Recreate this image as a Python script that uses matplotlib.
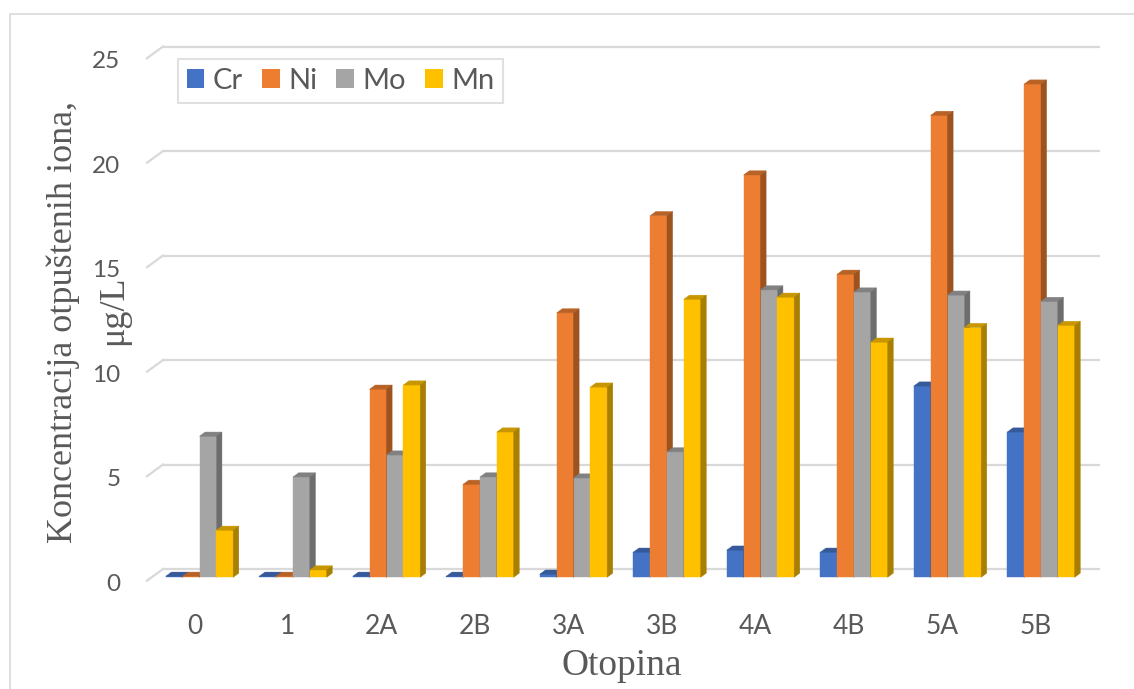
import sys

import numpy as np
import matplotlib

matplotlib.use("Agg")
import matplotlib.pyplot as plt
from matplotlib.colors import to_rgb
from matplotlib.patches import Patch, Polygon, Rectangle
from matplotlib.transforms import ScaledTranslation

CATEGORIES = ["0", "1", "2A", "2B", "3A", "3B", "4A", "4B", "5A", "5B"]
SERIES = ["Cr", "Ni", "Mo", "Mn"]
CR = [0.05, 0.05, 0.05, 0.05, 0.15, 1.2, 1.3, 1.2, 9.15, 6.95]
NI = [0.05, 0.05, 9.0, 4.45, 12.65, 17.3, 19.25, 14.5, 22.1, 23.6]
MO = [6.75, 4.8, 5.85, 4.8, 4.75, 6.0, 13.75, 13.65, 13.5, 13.2]
MN = [2.25, 0.35, 9.2, 6.95, 9.1, 13.3, 13.4, 11.25, 11.95, 12.05]
COLORS = ["#4472C4", "#ED7D31", "#A5A5A5", "#FFC000"]
Y_TICKS = [0, 5, 10, 15, 20, 25]

W, H, DPI = 1134, 689, 100
GRID = "#D9D9D9"
TEXT = "#595959"


def shade(color, f):
    return tuple(c * f for c in to_rgb(color))


def main() -> int:
    plt.rcParams["font.family"] = ["Lato", "DejaVu Sans"]

    fig = plt.figure(figsize=(W / DPI, H / DPI), dpi=DPI)
    # chart area border (runs off the right and bottom edge)
    fig.patches.append(
        Rectangle((10 / W, -0.1), 1.2, 1 - 14 / H + 0.1,
                  transform=fig.transFigure, fill=False,
                  edgecolor=GRID, lw=1.2)
    )

    ax = fig.add_axes([147 / W, 1 - 600 / H, 952 / W, 570 / H])
    ax.set_xlim(-0.5615, 9.6203)
    ax.set_ylim(-1.086, 26.187)
    ax.patch.set_visible(False)
    for s in ax.spines.values():
        s.set_visible(False)

    # back wall gridlines with the little diagonal on the left wall
    back = 0.397
    front = -0.163
    for v in Y_TICKS:
        ax.plot([-0.39, 9.62], [v + back, v + back], color=GRID, lw=1.6,
                zorder=1, clip_on=False)
        ax.plot([-0.5615, -0.39], [v + front, v + back], color=GRID, lw=1.6,
                zorder=1, clip_on=False)

    x = np.arange(len(CATEGORIES))
    width = 0.18
    dx, dy = 0.06, 0.2
    for k, (vals, col) in enumerate(zip([CR, NI, MO, MN], COLORS)):
        xs = x + (k - 1.5) * width
        z = 3 + k
        ax.bar(xs, vals, width, color=col, edgecolor=col, lw=0.3, zorder=z)
        for x0, v in zip(xs - width / 2, vals):
            top = Polygon([(x0, v), (x0 + width, v),
                           (x0 + width + dx, v + dy), (x0 + dx, v + dy)],
                          closed=True, fc=shade(col, 0.78),
                          ec=shade(col, 0.78), lw=0.3, zorder=z)
            side = Polygon([(x0 + width, 0), (x0 + width, v),
                            (x0 + width + dx, v + dy), (x0 + width + dx, dy)],
                           closed=True, fc=shade(col, 0.66),
                           ec=shade(col, 0.66), lw=0.3, zorder=z)
            ax.add_patch(top)
            ax.add_patch(side)

    ax.set_xticks(x, CATEGORIES)
    ax.set_yticks(Y_TICKS)
    ax.tick_params(length=0, labelcolor=TEXT)
    ax.tick_params(axis="x", pad=10, labelsize=19)
    ax.tick_params(axis="y", pad=19, labelsize=17.5)
    for lab in ax.get_xticklabels():
        lab.set_transform(lab.get_transform()
                          + ScaledTranslation(-5 / DPI, 0, fig.dpi_scale_trans))
    for lab in ax.get_yticklabels():
        lab.set_transform(lab.get_transform()
                          + ScaledTranslation(0, -5 / DPI, fig.dpi_scale_trans))

    handles = [Patch(facecolor=c, edgecolor="none") for c in COLORS]
    leg = ax.legend(handles, SERIES, loc="upper left",
                    bbox_to_anchor=(178 / W, 1 - 59 / H),
                    bbox_transform=fig.transFigure, ncol=4, frameon=True,
                    fancybox=False, edgecolor=GRID, fontsize=21,
                    handlelength=0.6, handleheight=0.6, handletextpad=0.3,
                    columnspacing=0.65, borderpad=0.3, borderaxespad=0)
    leg.get_frame().set_linewidth(1.5)
    for t in leg.get_texts():
        t.set_color(TEXT)
    leg.set_zorder(20)

    serif = ["Liberation Serif", "DejaVu Serif"]
    fig.text(622 / W, 1 - 675 / H, "Otopina", family=serif, fontsize=27,
             color=TEXT, ha="center", va="baseline")
    fig.text(72 / W, 1 - 322 / H, "Koncentracija otpuštenih iona,",
             family=serif, fontsize=26, color=TEXT, rotation=90,
             rotation_mode="anchor", ha="center", va="baseline")
    fig.text(122 / W, 1 - 310 / H, "μg/L", family=serif, fontsize=26,
             color=TEXT, rotation=90, rotation_mode="anchor",
             ha="center", va="baseline")

    fig.savefig("out.png", dpi=DPI)
    return 0


if __name__ == "__main__":
    sys.exit(main())
